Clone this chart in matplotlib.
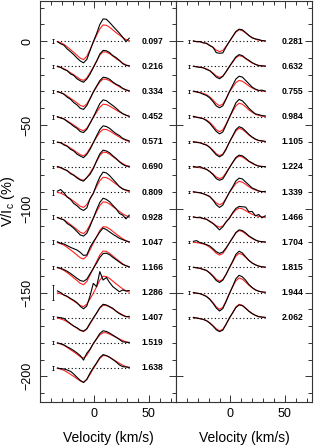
import matplotlib
matplotlib.use("Agg")
import matplotlib.pyplot as plt
from matplotlib.ticker import MultipleLocator, FixedLocator
import numpy as np

plt.rcParams['font.family'] = ['Liberation Sans', 'DejaVu Sans']
plt.rcParams['mathtext.fontset'] = 'custom'
plt.rcParams['mathtext.rm'] = 'Liberation Sans'

velocity = [-34, -31, -28, -25, -22, -19, -16, -13, -10, -7, -4, -1,
            2, 5, 8, 11, 14, 17, 20, 23, 26, 29, 32]

phases_left = ["0.097", "0.216", "0.334", "0.452", "0.571", "0.690", "0.809",
               "0.928", "1.047", "1.166", "1.286", "1.407", "1.519", "1.638"]
phases_right = ["0.281", "0.632", "0.755", "0.984", "1.105", "1.224",
                "1.339", "1.466", "1.704", "1.815", "1.944", "2.062"]

offsets_left = [0, -15, -30, -45, -60, -75, -90, -105, -120, -135, -150, -165, -180, -195]
offsets_right = [0, -15, -30, -45, -60, -75, -90, -105, -120, -135, -150, -165]

errors_left = [1.2, 1.0, 1.0, 1.2, 1.0, 0.8, 1.5, 1.2, 1.2, 1.0, 4.5, 0.8, 0.9, 1.0]
errors_right = [0.8, 0.7, 0.8, 0.8, 0.7, 0.7, 0.8, 0.8, 0.7, 0.7, 0.7, 0.7]

obs_left = [
    [-0.3, -1.5, -2.4, -4.6, -6.2, -8.0, -10.0, -11.8, -12.9, -10.9, -5.6, -0.3,
     4.5, 10.0, 13.3, 13.1, 11.2, 9.0, 6.9, 4.8, 2.4, -0.3, 1.8],
    [0.1, -0.6, -1.8, -2.6, -4.5, -5.4, -7.4, -8.6, -9.5, -7.6, -4.6, -0.8,
     3.0, 7.4, 9.5, 9.3, 8.2, 6.4, 5.2, 3.6, 1.6, 0.6, 0.3],
    [-0.1, -0.7, -1.6, -3.4, -4.6, -6.6, -8.0, -10.0, -10.7, -8.4, -4.4, -0.2,
     3.2, 6.5, 8.5, 8.2, 7.3, 5.6, 4.3, 3.4, 1.9, 1.0, 0.4],
    [0.0, -0.8, -1.4, -2.9, -4.2, -5.8, -7.0, -8.9, -9.5, -7.6, -4.0, -0.3,
     3.8, 7.8, 10.0, 9.5, 8.0, 6.6, 5.0, 3.2, 1.8, 0.9, 0.2],
    [-0.3, -0.5, -1.9, -2.7, -4.5, -5.5, -7.4, -8.5, -9.5, -7.6, -4.5, -0.6,
     3.5, 7.3, 9.5, 9.1, 8.0, 6.3, 4.8, 3.7, 2.0, 1.2, 0.5],
    [0.2, -0.3, -1.4, -2.2, -4.0, -5.0, -6.6, -7.8, -8.5, -6.3, -4.4, -1.0,
     3.6, 7.8, 10.0, 9.5, 8.4, 6.6, 5.0, 3.0, 1.5, 0.5, 0.3],
    [0.5, 1.5, -0.5, -3.0, -4.4, -6.8, -8.2, -10.0, -11.0, -9.5, -4.0, -0.8,
     4.5, 9.0, 11.9, 11.4, 9.8, 7.6, 5.5, 3.2, 1.8, 1.2, 0.8],
    [-0.2, -1.0, -1.6, -3.8, -5.0, -6.6, -8.6, -10.6, -11.3, -9.6, -5.4, -0.6,
     4.4, 8.8, 11.3, 10.6, 9.2, 7.0, 5.0, 2.2, 1.2, -1.0, 1.2],
    [0.3, -0.6, -1.0, -2.0, -3.0, -3.8, -4.6, -6.0, -7.8, -7.6, -3.0, 0.3,
     3.2, 6.2, 8.5, 7.6, 6.2, 4.8, 3.6, 2.4, 1.6, 0.8, 0.2],
    [0.0, -0.5, -1.3, -2.3, -3.6, -5.0, -6.5, -7.8, -8.3, -7.0, -3.8, -0.6,
     2.6, 6.0, 8.3, 8.5, 7.6, 6.0, 4.6, 3.2, 1.8, 1.0, 0.4],
    [1.0, 0.0, -1.5, -2.2, -3.5, -4.6, -6.0, -8.2, -9.7, -8.0, -2.0, 5.5,
     3.5, 12.5, 7.5, 9.0, 6.0, 3.5, 2.0, 0.5, 1.5, 1.0, 1.2],
    [0.3, 0.0, -0.4, -2.0, -3.6, -5.0, -6.0, -7.4, -8.0, -6.6, -3.2, -0.2,
     2.8, 6.0, 8.0, 7.6, 6.6, 5.6, 3.8, 2.4, 1.4, 0.6, 0.8],
    [0.0, -0.5, -1.2, -2.4, -3.4, -4.6, -6.0, -7.6, -10.3, -6.2, -3.8, -0.4,
     2.5, 5.6, 7.2, 6.8, 5.8, 4.6, 3.4, 2.0, 0.6, 0.4, 0.2],
    [0.0, -0.4, -0.6, -1.2, -2.0, -3.6, -5.6, -7.4, -8.7, -6.8, -3.0, 0.2,
     3.0, 6.2, 8.0, 7.4, 6.4, 5.0, 3.6, 1.8, 0.8, 0.6, 0.4],
]

model_left = [
    [-0.2, -0.9, -1.9, -3.3, -5.0, -6.6, -8.4, -10.1, -11.0, -9.0, -5.0, -0.6,
     3.5, 7.4, 9.7, 9.5, 8.3, 6.7, 5.1, 3.7, 2.2, 1.0, 0.3],
    [-0.2, -0.7, -1.4, -2.5, -3.8, -5.0, -6.4, -7.7, -8.4, -6.9, -3.8, -0.4,
     3.1, 6.7, 8.7, 8.5, 7.5, 6.1, 4.6, 3.3, 2.0, 0.9, 0.3],
    [-0.2, -0.7, -1.5, -2.7, -4.1, -5.4, -6.8, -8.3, -9.0, -7.4, -4.1, -0.5,
     2.7, 5.7, 7.4, 7.3, 6.4, 5.2, 4.0, 2.8, 1.7, 0.8, 0.2],
    [-0.2, -0.7, -1.4, -2.5, -3.8, -5.0, -6.4, -7.7, -8.4, -6.9, -3.8, -0.4,
     2.6, 5.6, 7.4, 7.2, 6.3, 5.1, 3.9, 2.8, 1.7, 0.8, 0.2],
    [-0.2, -0.7, -1.4, -2.5, -3.8, -5.0, -6.4, -7.7, -8.4, -6.9, -3.8, -0.4,
     2.7, 5.7, 7.4, 7.3, 6.4, 5.2, 4.0, 2.8, 1.7, 0.8, 0.2],
    [-0.2, -0.6, -1.4, -2.4, -3.6, -4.8, -6.1, -7.4, -8.0, -6.6, -3.6, -0.4,
     3.2, 6.8, 8.8, 8.6, 7.6, 6.1, 4.7, 3.3, 2.0, 0.9, 0.3],
    [-0.2, -0.7, -1.6, -2.8, -4.1, -5.5, -7.0, -8.5, -9.2, -7.5, -4.1, -0.5,
     3.2, 6.8, 8.8, 8.6, 7.6, 6.1, 4.7, 3.3, 2.0, 0.9, 0.3],
    [-0.2, -0.8, -1.7, -2.9, -4.4, -5.9, -7.4, -9.0, -9.8, -8.0, -4.4, -0.5,
     3.3, 7.0, 9.1, 8.9, 7.8, 6.3, 4.8, 3.4, 2.0, 0.9, 0.3],
    [-0.2, -0.8, -1.7, -3.0, -4.5, -6.0, -7.6, -9.2, -10.0, -8.2, -4.5, -0.5,
     3.3, 7.1, 9.3, 9.1, 8.0, 6.5, 4.9, 3.5, 2.1, 1.0, 0.3],
    [-0.2, -0.8, -1.8, -3.1, -4.6, -6.2, -7.8, -9.5, -10.3, -8.4, -4.6, -0.5,
     3.5, 7.5, 9.8, 9.6, 8.4, 6.8, 5.2, 3.7, 2.2, 1.0, 0.3],
    [-0.2, -0.7, -1.4, -2.5, -3.8, -5.0, -6.4, -7.7, -8.4, -6.9, -3.8, -0.4,
     3.5, 7.5, 9.8, 9.6, 8.4, 6.8, 5.2, 3.7, 2.2, 1.0, 0.3],
    [-0.2, -0.7, -1.4, -2.5, -3.7, -5.0, -6.3, -7.6, -8.3, -6.8, -3.7, -0.4,
     2.7, 5.7, 7.4, 7.3, 6.4, 5.2, 4.0, 2.8, 1.7, 0.8, 0.2],
    [-0.2, -0.7, -1.5, -2.7, -4.1, -5.4, -6.8, -8.3, -9.0, -7.4, -4.1, -0.5,
     2.2, 4.7, 6.1, 6.0, 5.2, 4.2, 3.2, 2.3, 1.4, 0.6, 0.2],
    [-0.2, -0.7, -1.4, -2.5, -3.8, -5.0, -6.4, -7.7, -8.4, -6.9, -3.8, -0.4,
     2.7, 5.7, 7.4, 7.3, 6.4, 5.2, 4.0, 2.8, 1.7, 0.8, 0.2],
]

obs_right = [
    [0.2, -0.3, -0.2, -1.0, -1.2, -2.6, -3.6, -6.8, -7.2, -7.0, -3.4, -0.2,
     2.8, 5.8, 7.2, 6.8, 5.2, 3.4, 2.0, 1.4, 1.0, 0.4, 0.2],
    [0.1, -0.3, -0.6, -0.8, -1.8, -2.6, -4.4, -6.4, -7.4, -6.0, -3.2, -0.1,
     2.8, 5.6, 7.0, 6.4, 4.8, 3.6, 2.2, 1.2, 0.4, 0.3, 0.2],
    [0.2, -0.2, -0.8, -1.6, -2.4, -3.8, -6.0, -8.6, -9.7, -8.6, -4.6, -0.2,
     3.6, 7.4, 9.1, 8.6, 6.6, 4.6, 2.6, 1.4, 0.6, 0.8, 0.2],
    [0.2, -0.4, -0.8, -1.2, -2.4, -4.0, -6.4, -8.8, -10.3, -9.2, -5.0, -0.6,
     3.8, 8.2, 10.3, 9.4, 7.4, 5.0, 3.2, 1.6, 1.2, 0.6, 0.4],
    [0.0, -0.4, -0.6, -1.4, -2.0, -3.4, -5.6, -7.8, -9.0, -7.8, -4.6, -0.2,
     3.4, 7.2, 9.0, 8.2, 6.4, 4.4, 2.8, 1.6, 0.8, 0.6, 0.2],
    [0.3, -0.2, 0.2, -0.8, -1.4, -2.8, -4.6, -7.0, -8.0, -7.2, -4.0, -0.6,
     2.6, 5.6, 7.0, 6.6, 5.2, 3.4, 2.4, 1.2, 0.4, 0.2, 0.2],
    [0.2, -0.2, -0.4, -1.0, -1.8, -2.6, -4.8, -7.6, -9.2, -7.8, -4.0, -0.2,
     3.0, 6.6, 8.3, 7.8, 6.0, 4.2, 2.4, 1.6, 0.6, 0.2, 0.4],
    [0.2, -0.3, 0.0, -0.8, -1.2, -2.6, -3.8, -5.6, -7.6, -5.8, -2.8, -0.8,
     2.6, 5.2, 6.4, 6.2, 6.0, 3.2, 3.4, 0.8, 1.6, -0.4, 0.8],
    [0.6, 1.0, -0.2, -0.6, -1.4, -2.2, -3.8, -5.6, -6.6, -5.8, -3.4, -0.4,
     2.6, 5.8, 7.4, 7.0, 5.6, 3.8, 2.6, 1.4, 0.6, 0.4, 0.2],
    [0.1, -0.2, -0.5, -1.2, -1.8, -3.4, -5.4, -7.8, -9.0, -7.6, -4.2, -0.2,
     3.6, 7.8, 9.7, 8.6, 6.4, 4.2, 2.6, 1.6, 0.8, 0.4, 0.2],
    [0.0, -0.4, -0.6, -1.4, -2.4, -4.0, -6.4, -9.2, -11.0, -9.6, -5.4, -0.8,
     3.6, 8.2, 10.3, 9.4, 7.4, 4.8, 3.0, 1.6, 0.8, 0.4, 0.2],
    [0.2, -0.2, -0.6, -1.0, -1.8, -3.2, -5.0, -7.2, -8.3, -7.4, -4.0, -0.2,
     2.8, 6.0, 7.6, 7.2, 5.6, 3.8, 2.4, 1.4, 0.6, 0.4, 0.2],
]

model_right = [
    [0.0, -0.2, -0.4, -0.8, -1.4, -2.4, -3.7, -5.3, -6.2, -5.5, -3.1, -0.3,
     2.6, 5.4, 6.8, 6.3, 4.9, 3.4, 2.2, 1.2, 0.6, 0.3, 0.1],
    [0.0, -0.2, -0.5, -0.9, -1.5, -2.5, -4.0, -5.6, -6.6, -5.8, -3.3, -0.3,
     2.4, 5.1, 6.4, 5.9, 4.6, 3.2, 2.0, 1.2, 0.6, 0.3, 0.1],
    [0.0, -0.3, -0.6, -1.1, -1.9, -3.2, -5.1, -7.2, -8.5, -7.5, -4.3, -0.4,
     2.5, 5.3, 6.6, 6.1, 4.8, 3.3, 2.1, 1.2, 0.6, 0.3, 0.1],
    [0.0, -0.3, -0.6, -1.2, -2.0, -3.4, -5.4, -7.7, -9.0, -7.9, -4.5, -0.5,
     3.0, 6.4, 8.0, 7.4, 5.8, 4.0, 2.6, 1.4, 0.7, 0.3, 0.1],
    [0.0, -0.2, -0.6, -1.1, -1.8, -3.2, -5.0, -7.1, -8.3, -7.3, -4.2, -0.4,
     3.0, 6.4, 8.0, 7.4, 5.8, 4.0, 2.6, 1.4, 0.7, 0.3, 0.1],
    [0.0, -0.2, -0.5, -0.9, -1.5, -2.7, -4.2, -6.0, -7.0, -6.2, -3.5, -0.4,
     2.4, 5.1, 6.4, 5.9, 4.6, 3.2, 2.0, 1.2, 0.6, 0.3, 0.1],
    [0.0, -0.2, -0.5, -1.0, -1.7, -2.9, -4.6, -6.5, -7.6, -6.7, -3.8, -0.4,
     2.4, 5.1, 6.4, 5.9, 4.6, 3.2, 2.0, 1.2, 0.6, 0.3, 0.1],
    [0.0, -0.2, -0.4, -0.8, -1.3, -2.3, -3.6, -5.1, -6.0, -5.3, -3.0, -0.3,
     2.1, 4.3, 5.4, 5.0, 3.9, 2.7, 1.7, 1.0, 0.5, 0.2, 0.1],
    [0.0, -0.2, -0.5, -1.0, -1.7, -2.9, -4.6, -6.5, -7.6, -6.7, -3.8, -0.4,
     2.7, 5.6, 7.0, 6.4, 5.0, 3.5, 2.2, 1.3, 0.6, 0.3, 0.1],
    [0.0, -0.2, -0.6, -1.1, -1.8, -3.1, -4.9, -7.0, -8.2, -7.2, -4.1, -0.4,
     3.2, 6.7, 8.4, 7.7, 6.0, 4.2, 2.7, 1.5, 0.8, 0.3, 0.1],
    [0.0, -0.3, -0.7, -1.3, -2.2, -3.8, -6.0, -8.5, -10.0, -8.8, -5.0, -0.5,
     3.3, 7.0, 8.7, 8.0, 6.3, 4.4, 2.8, 1.6, 0.8, 0.3, 0.1],
    [0.0, -0.2, -0.5, -1.0, -1.7, -3.0, -4.7, -6.6, -7.8, -6.9, -3.9, -0.4,
     3.0, 6.4, 8.0, 7.4, 5.8, 4.0, 2.6, 1.4, 0.7, 0.3, 0.1],
]

W, H = 314, 447
fig = plt.figure(figsize=(W / 100, H / 100), dpi=100)
x0, x1, x2 = 40 / W, 176 / W, 312 / W
yb, yt = (H - 402) / H, (H - 1) / H
axL = fig.add_axes([x0, yb, x1 - x0, yt - yb])
axR = fig.add_axes([x1, yb, x2 - x1, yt - yb])

v = np.array(velocity)
err_x = -38


def draw(ax, obs, model, offs, errs, phases, lx):
    for o, m, off, e, ph in zip(obs, model, offs, errs, phases):
        ax.plot([v[0], v[-1]], [off, off], color='black', lw=0.8,
                linestyle=(0, (1, 2.2)))
        ax.plot(v, np.array(m) + off, color='#ff2020', lw=0.8)
        ax.plot(v, np.array(o) + off, color='black', lw=0.8)
        ax.errorbar([err_x], [off], yerr=[e], color='black', lw=0.6,
                    capsize=1, capthick=0.6)
        ax.text(lx, off, ph, fontsize=6.2, fontweight='bold',
                ha='left', va='center')


draw(axL, obs_left, model_left, offsets_left, errors_left, phases_left, 43)
draw(axR, obs_right, model_right, offsets_right, errors_right, phases_right, 47)

for ax in (axL, axR):
    ax.set_xlim(-50, 75)
    ax.set_ylim(-215.3, 24)
    ax.xaxis.set_major_locator(FixedLocator([0, 50]))
    ax.xaxis.set_minor_locator(MultipleLocator(10))
    ax.yaxis.set_major_locator(MultipleLocator(50))
    ax.yaxis.set_minor_locator(MultipleLocator(10))
    ax.tick_params(which='both', direction='in', top=True, right=True,
                   width=0.7, colors='#333333', labelcolor='black')
    ax.tick_params(which='major', length=5)
    ax.tick_params(which='minor', length=3)
    ax.tick_params(axis='x', labelsize=9, pad=4)
    for s in ax.spines.values():
        s.set_linewidth(0.8)
        s.set_color('#333333')
    ax.set_xlabel('Velocity (km/s)', fontsize=10, labelpad=8)

axL.tick_params(axis='y', labelsize=9, labelrotation=90, pad=5)
for lab in axL.get_yticklabels():
    lab.set_va('center')
axL.set_ylabel(r'V/I$_{\rm c}$ (%)', fontsize=10.5, labelpad=3)
axR.tick_params(axis='y', labelleft=False)
axR.tick_params(axis='y', which='minor', left=False)

fig.savefig('out.png', dpi=100)
